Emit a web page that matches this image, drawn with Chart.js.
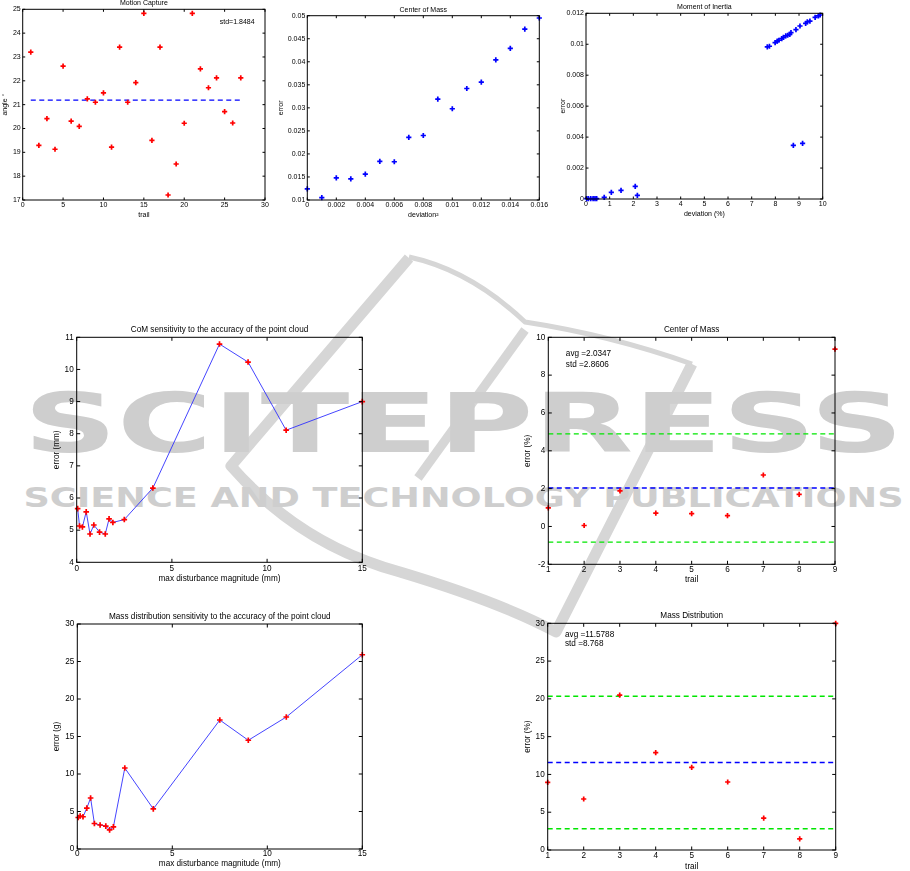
<!DOCTYPE html>
<html>
<head>
<meta charset="utf-8">
<script src="https://cdn.jsdelivr.net/npm/chart.js@4.4.1/dist/chart.umd.min.js"></script>
<style>
body { margin: 0; background: #fff; width: 910px; height: 871px; position: relative; overflow: hidden; }
canvas { position: absolute; }
svg.wm { position: absolute; left: 0; top: 0; }
</style>
</head>
<body>
<svg class="wm" width="910" height="871">
  <g fill="none" stroke="#d6d6d6" stroke-linejoin="round">
    <path d="M409 258 L231 466 Q300 545 400 572 Q500 602 556 632 L692 364" stroke-width="11"/>
    <path d="M409 257 Q470 270 525 322 Q610 335 692 364" stroke-width="5"/>
    <path d="M525 330 L418 478" stroke-width="9"/>
  </g>
  <text x="23.5" y="452" font-family="DejaVu Sans" font-weight="bold" font-size="82" fill="#cecece" textLength="880" lengthAdjust="spacingAndGlyphs">SCITEPRESS</text>
  <text x="23.5" y="507" font-family="DejaVu Sans" font-weight="bold" font-size="27.4" fill="#cecece" textLength="880" lengthAdjust="spacingAndGlyphs">SCIENCE AND TECHNOLOGY PUBLICATIONS</text>
</svg>
<canvas id="c1"></canvas>
<canvas id="c2"></canvas>
<canvas id="c3"></canvas>
<canvas id="c4"></canvas>
<canvas id="c5"></canvas>
<canvas id="c6"></canvas>
<canvas id="c7"></canvas>
<script>
// ---------- data ----------
// Motion Capture
const mcTrail = [1, 2, 3, 4, 5, 6, 7, 8, 9, 10, 11, 12, 13, 14, 15, 16, 17, 18, 19, 20, 21, 22, 23, 24, 25, 26, 27];
const mcAngle = [23.2, 19.29, 20.41, 19.13, 22.62, 20.31, 20.09, 21.24, 21.1, 21.49, 19.22, 23.41, 21.1, 21.92,
                 24.83, 19.5, 23.41, 17.21, 18.51, 20.22, 24.83, 22.5, 21.71, 22.12, 20.71, 20.23, 22.12];
const mcMean = 21.19;
const mcStdText = 'std=1.8484';

// Center of Mass vs deviation^2
const comDev = [0, 0.001, 0.002, 0.003, 0.004, 0.005, 0.006, 0.007, 0.008, 0.009, 0.010, 0.011, 0.012, 0.013, 0.014, 0.015, 0.016];
const comErr = [0.0124, 0.0105, 0.0148, 0.0146, 0.0156, 0.0184, 0.0183, 0.0236, 0.0240, 0.0319, 0.0298, 0.0342, 0.0356, 0.0404, 0.0429, 0.0471, 0.0495];

// Moment of Inertia
const moiDev = [0.03, 0.1, 0.2, 0.3, 0.38, 0.45, 0.77, 1.07, 1.48, 2.08, 2.17,
                7.66, 7.75, 7.99, 8.08, 8.15, 8.27, 8.34, 8.44, 8.52, 8.61, 8.66, 8.87, 9.04, 9.28, 9.35, 9.46, 9.68, 9.82, 9.89,
                8.76, 9.15];
const moiErr = [0.00002, 0.00002, 0.00002, 0.00003, 0.00003, 0.00003, 0.0001, 0.00043, 0.00056, 0.00082, 0.00024,
                0.00983, 0.00987, 0.0101, 0.0102, 0.01026, 0.01036, 0.01045, 0.01054, 0.01058, 0.01064, 0.01075, 0.01094, 0.01118, 0.01135, 0.01144, 0.0115, 0.01174, 0.01183, 0.01189,
                0.00347, 0.0036];

// sensitivity to point cloud accuracy
const sensDist = [0.05, 0.15, 0.3, 0.5, 0.7, 0.9, 1.2, 1.5, 1.7, 1.9, 2.5, 4, 7.5, 9, 11, 15];
const sensCom = [5.67, 5.13, 5.10, 5.57, 4.88, 5.16, 4.94, 4.88, 5.35, 5.24, 5.33, 6.31, 10.79, 10.23, 8.11, 9.0];
const sensMass = [4.2, 4.4, 4.3, 5.45, 6.8, 3.4, 3.2, 3.05, 2.55, 2.95, 10.8, 5.35, 17.2, 14.5, 17.6, 25.9];

// per-trail errors
const trails = [1, 2, 3, 4, 5, 6, 7, 8, 9];
const comTrialErr = [0.98, 0.05, 1.88, 0.71, 0.68, 0.57, 2.72, 1.70, 9.37];
const comAvg = 2.0347, comStd = 2.8606;
const massTrialErr = [8.95, 6.75, 20.5, 12.88, 10.94, 9.0, 4.23, 1.46, 30.0];
const massAvg = 11.5788, massStd = 8.768;

// ---------- helpers ----------
function hasFont(name) {
    const ctx = document.createElement('canvas').getContext('2d');
    const s = 'mmmmmmmmmmlli1WQ';
    ctx.font = '40px monospace';
    const w0 = ctx.measureText(s).width;
    ctx.font = '40px "' + name + '", monospace';
    return ctx.measureText(s).width !== w0;
}
const NARROW = hasFont('Liberation Sans Narrow');
const FONT = NARROW ? '"Liberation Sans Narrow"' : '"Liberation Sans", Arial, sans-serif';
const SMALL = NARROW ? 8.5 : 7;
const BIG = NARROW ? 9.8 : 8.2;

const pts = (xs, ys) => xs.map((x, i) => ({ x, y: ys[i] }));
const hline = (x0, x1, y) => [{ x: x0, y }, { x: x1, y }];
const fmt = v => String(parseFloat(Number(v).toFixed(6)));

function markers(data, color) {
    return { data, showLine: false, pointStyle: 'cross', pointRadius: 2.6, pointBorderWidth: 1.7,
             pointBorderColor: color, pointBackgroundColor: color, clip: false };
}
function polyline(data, lineColor, markColor) {
    return { data, showLine: true, borderColor: lineColor, borderWidth: 0.9, tension: 0,
             pointStyle: 'cross', pointRadius: 2.8, pointBorderWidth: 1.7,
             pointBorderColor: markColor, pointBackgroundColor: markColor, clip: false };
}
function dashed(data, color) {
    return { data, showLine: true, borderColor: color, borderWidth: 1.3, borderDash: [5, 3.5], pointRadius: 0, clip: false };
}

// MATLAB style box with inward ticks, plus text notes
const matlabBox = {
    id: 'matlabBox',
    afterDraw(chart, args, opts) {
        const { ctx, chartArea: a } = chart;
        const x = chart.scales.x, y = chart.scales.y;
        const t = opts.tick;
        ctx.save();
        ctx.strokeStyle = '#000';
        ctx.lineWidth = 1;
        ctx.strokeRect(a.left, a.top, a.width, a.height);
        ctx.beginPath();
        x.ticks.forEach(tk => {
            const p = x.getPixelForValue(tk.value);
            ctx.moveTo(p, a.bottom); ctx.lineTo(p, a.bottom - t);
            ctx.moveTo(p, a.top); ctx.lineTo(p, a.top + t);
        });
        y.ticks.forEach(tk => {
            const p = y.getPixelForValue(tk.value);
            ctx.moveTo(a.left, p); ctx.lineTo(a.left + t, p);
            ctx.moveTo(a.right, p); ctx.lineTo(a.right - t, p);
        });
        ctx.stroke();
        ctx.fillStyle = '#000';
        ctx.font = opts.size + 'px ' + FONT;
        ctx.textBaseline = 'middle';
        (opts.notes || []).forEach(n => {
            ctx.fillText(n.text, x.getPixelForValue(n.x), y.getPixelForValue(n.y));
        });
        ctx.restore();
    }
};

// b: plot box (L,T,R,B) + text positions in page pixels, s: scale ranges
function makePanel(id, b, s, datasets, notes) {
    const fs = b.fs;
    const left = Math.floor(b.ytx - fs / 2);
    const top = Math.floor(b.ty - fs / 2);
    const width = Math.ceil(b.R - left + 14);
    const height = Math.ceil(b.xtx + fs / 2 + 3 - top);
    const xh = b.xtx + fs / 2 - b.B;
    const cv = document.getElementById(id);
    cv.width = width; cv.height = height;
    cv.style.left = left + 'px'; cv.style.top = top + 'px';
    const font = { family: FONT, size: fs, lineHeight: 1, weight: 'normal' };
    new Chart(cv, {
        type: 'scatter',
        data: { datasets },
        options: {
            responsive: false,
            animation: false,
            events: [],
            layout: { padding: { left: 0, top: 0, right: left + width - b.R, bottom: height - (b.B - top) - xh } },
            plugins: {
                legend: { display: false },
                tooltip: { enabled: false },
                title: {
                    display: true, text: b.title, fullSize: false, color: '#000', font,
                    padding: { top: b.ty - fs / 2 - top, bottom: b.T - b.ty - fs / 2 }
                },
                matlabBox: { tick: b.tick, notes, size: fs }
            },
            scales: {
                x: {
                    type: 'linear', min: s.x[0], max: s.x[1],
                    ticks: { stepSize: s.x[2], font, color: '#000', padding: b.xt - b.B - fs / 2,
                             callback: fmt, autoSkip: false, maxRotation: 0 },
                    grid: { display: false, drawTicks: false },
                    border: { display: false },
                    title: { display: true, text: b.xlabel, font, color: '#000', padding: 0 },
                    afterFit: sc => { sc.height = xh; }
                },
                y: {
                    type: 'linear', min: s.y[0], max: s.y[1],
                    ticks: { stepSize: s.y[2], font, color: '#000', padding: b.yp, callback: fmt, autoSkip: false },
                    grid: { display: false, drawTicks: false },
                    border: { display: false },
                    title: { display: true, text: b.ylabel, font, color: '#000', padding: 0 },
                    afterFit: sc => { sc.width = b.L - left; }
                }
            }
        },
        plugins: [matlabBox]
    });
}

// ---------- panels ----------
makePanel('c1',
    { L: 22.7, T: 9.3, R: 265, B: 200, ty: 3.5, xt: 205, xtx: 215, ytx: 5.5, yp: 2, fs: SMALL, tick: 2.5,
      title: 'Motion Capture', xlabel: 'trail', ylabel: 'angle °' },
    { x: [0, 30, 5], y: [17, 25, 1] },
    [markers(pts(mcTrail, mcAngle), '#ff0000'),
     dashed(hline(mcTrail[0], mcTrail[mcTrail.length - 1], mcMean), '#0000ff')],
    [{ x: 24.4, y: 24.48, text: mcStdText }]);

makePanel('c2',
    { L: 307.3, T: 15.7, R: 539.3, B: 200, ty: 10, xt: 205, xtx: 215, ytx: 282, yp: 2, fs: SMALL, tick: 2.5,
      title: 'Center of Mass', xlabel: 'deviation²', ylabel: 'error' },
    { x: [0, 0.016, 0.002], y: [0.01, 0.05, 0.005] },
    [markers(pts(comDev, comErr), '#0000ff')]);

makePanel('c3',
    { L: 586, T: 13.3, R: 822.7, B: 199, ty: 6.7, xt: 204.5, xtx: 214.5, ytx: 564, yp: 2, fs: SMALL, tick: 2.5,
      title: 'Moment of Inertia', xlabel: 'deviation (%)', ylabel: 'error' },
    { x: [0, 10, 1], y: [0, 0.012, 0.002] },
    [markers(pts(moiDev, moiErr), '#0000ff')]);

makePanel('c4',
    { L: 76.7, T: 337.3, R: 362.3, B: 562.3, ty: 330, xt: 568.3, xtx: 578.3, ytx: 57.3, yp: 3, fs: BIG, tick: 3.5,
      title: 'CoM sensitivity to the accuracy of the point cloud', xlabel: 'max disturbance magnitude (mm)', ylabel: 'error (mm)' },
    { x: [0, 15, 5], y: [4, 11, 1] },
    [polyline(pts(sensDist, sensCom), '#3030ff', '#ff0000')]);

makePanel('c5',
    { L: 548.3, T: 337.3, R: 835, B: 564.3, ty: 330, xt: 570, xtx: 580, ytx: 528.3, yp: 3, fs: BIG, tick: 3.5,
      title: 'Center of Mass', xlabel: 'trail', ylabel: 'error (%)' },
    { x: [1, 9, 1], y: [-2, 10, 2] },
    [markers(pts(trails, comTrialErr), '#ff0000'),
     dashed(hline(1, 9, comAvg), '#0000ff'),
     dashed(hline(1, 9, comAvg + comStd), '#00e600'),
     dashed(hline(1, 9, comAvg - comStd), '#00e600')],
    [{ x: 1.49, y: 9.15, text: 'avg =' + comAvg }, { x: 1.49, y: 8.57, text: 'std =' + comStd }]);

makePanel('c6',
    { L: 77.3, T: 624, R: 362.3, B: 849, ty: 617, xt: 854, xtx: 864, ytx: 57.3, yp: 3, fs: BIG, tick: 3.5,
      title: 'Mass distribution sensitivity to the accuracy of the point cloud', xlabel: 'max disturbance magnitude (mm)', ylabel: 'error (g)' },
    { x: [0, 15, 5], y: [0, 30, 5] },
    [polyline(pts(sensDist, sensMass), '#3030ff', '#ff0000')]);

makePanel('c7',
    { L: 547.7, T: 623.3, R: 835.7, B: 850, ty: 616, xt: 856, xtx: 867, ytx: 528.3, yp: 3, fs: BIG, tick: 3.5,
      title: 'Mass Distribution', xlabel: 'trail', ylabel: 'error (%)' },
    { x: [1, 9, 1], y: [0, 30, 5] },
    [markers(pts(trails, massTrialErr), '#ff0000'),
     dashed(hline(1, 9, massAvg), '#0000ff'),
     dashed(hline(1, 9, massAvg + massStd), '#00e600'),
     dashed(hline(1, 9, massAvg - massStd), '#00e600')],
    [{ x: 1.48, y: 28.54, text: 'avg =' + massAvg }, { x: 1.48, y: 27.26, text: 'std =' + massStd }]);
</script>
</body>
</html>
